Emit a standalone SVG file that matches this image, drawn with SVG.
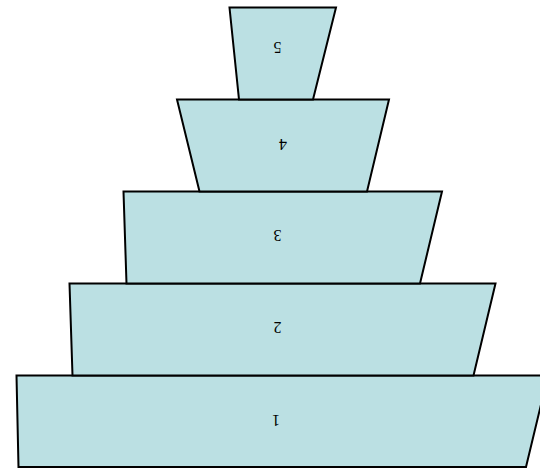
<svg xmlns="http://www.w3.org/2000/svg" width="540" height="468" viewBox="0 0 540 468">
<style>
.lvl{fill:#bbe0e3;stroke:#000;stroke-width:2;stroke-linejoin:miter}
.lbl{font-family:"Liberation Serif",serif;font-size:16px;fill:#000;text-anchor:middle;dominant-baseline:central}
</style>
<rect width="540" height="468" fill="#fff"/>
<g id="level1"><polygon class="lvl" points="16.5,375.5 548,375.5 526,467 18.5,467"/><text class="lbl" x="276" y="420" transform="rotate(180 276 420)">1</text></g>
<g id="level2"><polygon class="lvl" points="69.5,283.5 495.5,283.5 473.5,375.5 72.5,375.5"/><text class="lbl" x="277.5" y="327" transform="rotate(180 277.5 327)">2</text></g>
<g id="level3"><polygon class="lvl" points="123.5,191.5 442,191.5 420,283.5 126.5,283.5"/><text class="lbl" x="277.5" y="235" transform="rotate(180 277.5 235)">3</text></g>
<g id="level4"><polygon class="lvl" points="177,99.5 389,99.5 367,191.5 199.5,191.5"/><text class="lbl" x="283" y="144" transform="rotate(180 283 144)">4</text></g>
<g id="level5"><polygon class="lvl" points="229.5,7.5 336,7.5 313,99.5 239,99.5"/><text class="lbl" x="277.5" y="47" transform="rotate(180 277.5 47)">5</text></g>
<g id="connectors"/>
</svg>
